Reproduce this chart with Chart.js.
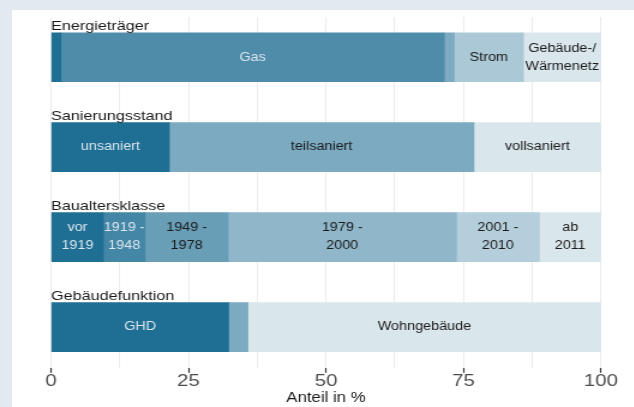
<!DOCTYPE html>
<html lang="de">
<head>
<meta charset="utf-8">
<script src="https://cdn.jsdelivr.net/npm/chart.js@4.4.1/dist/chart.umd.min.js"></script>
<style>
  html, body { margin: 0; padding: 0; }
  body { width: 634px; height: 407px; background: #e2eaf0; overflow: hidden; position: relative; }
  #panel { position: absolute; left: 12px; top: 10px; width: 622px; height: 397px; background: #fff; overflow: hidden; }
  /* the plot is drawn narrow and widened, so the type comes out broad */
  #stretch { width: 518px; height: 397px; transform: scaleX(1.2); transform-origin: 0 0; }
</style>
</head>
<body>
<div id="panel"><div id="stretch"><canvas id="chart" width="518" height="397"></canvas></div></div>
<script>
const gruppen = ['Energieträger', 'Sanierungsstand', 'Baualtersklasse', 'Gebäudefunktion'];

const energietraeger = [1.8, 69.7, 1.8, 12.6, 14.1];
const energietraegerNamen = ['', 'Gas', '', 'Strom', ['Gebäude-/', 'Wärmenetz']];

const sanierung = [21.5, 55.4, 23.1];
const sanierungNamen = ['unsaniert', 'teilsaniert', 'vollsaniert'];

const baualter = [9.5, 7.6, 15.1, 41.5, 15.1, 11.2];
const baualterNamen = [['vor', '1919'], ['1919 -', '1948'], ['1949 -', '1978'], ['1979 -', '2000'], ['2001 -', '2010'], ['ab', '2011']];

const funktion = [32.3, 3.5, 64.2];
const funktionNamen = ['GHD', '', 'Wohngebäude'];

const xTicks = [0, 25, 50, 75, 100];

// blue ramps, dark to light, by number of segments in a row
const farben = {
    3: ['#1f6e94', '#7caac0', '#d9e6ec'],
    5: ['#1f6e94', '#4e8caa', '#7caac0', '#aac8d6', '#d9e6ec'],
    6: ['#1f6e94', '#4486a6', '#699eb7', '#8fb6c9', '#b4cedb', '#d9e6ec'],
};

const reihen = [
    { werte: energietraeger, namen: energietraegerNamen },
    { werte: sanierung, namen: sanierungNamen },
    { werte: baualter, namen: baualterNamen },
    { werte: funktion, namen: funktionNamen },
];

const datasets = [];
for (let k = 0; k < 6; k++) {
    const data = [];
    const colors = [];
    reihen.forEach((r, i) => {
        if (k >= r.werte.length) return;
        data.push({ x: r.werte[k], y: i, name: r.namen[k] });
        colors.push(farben[r.werte.length][k]);
    });
    datasets.push({ data, backgroundColor: colors, barThickness: 49, borderWidth: 0 });
}

function istDunkel(hex) {
    const n = parseInt(hex.slice(1), 16);
    const r = n >> 16, g = (n >> 8) & 255, b = n & 255;
    return 0.299 * r + 0.587 * g + 0.114 * b < 135;
}

const beschriftung = {
    id: 'beschriftung',
    afterDatasetsDraw(chart) {
        const ctx = chart.ctx;
        ctx.save();
        ctx.textAlign = 'center';
        ctx.textBaseline = 'middle';
        ctx.font = '12px "Liberation Sans", Arial, sans-serif';
        chart.data.datasets.forEach((ds, k) => {
            chart.getDatasetMeta(k).data.forEach((bar, j) => {
                const name = ds.data[j].name;
                if (!name) return;
                const lines = Array.isArray(name) ? name : [name];
                const cx = (bar.x + bar.base) / 2;
                ctx.fillStyle = istDunkel(ds.backgroundColor[j]) ? '#dbe7ed' : '#1a1a1a';
                lines.forEach((l, n) => ctx.fillText(l, cx, bar.y + (n - (lines.length - 1) / 2) * 18));
            });
        });
        // row headings above each bar
        ctx.textAlign = 'left';
        ctx.textBaseline = 'alphabetic';
        ctx.font = '13.5px "Liberation Sans", Arial, sans-serif';
        ctx.fillStyle = '#1a1a1a';
        chart.getDatasetMeta(0).data.forEach((bar, i) => {
            ctx.fillText(gruppen[i], chart.chartArea.left, bar.y - bar.height / 2 - 3);
        });
        ctx.restore();
    }
};

new Chart(document.getElementById('chart'), {
    type: 'bar',
    data: { datasets },
    plugins: [beschriftung],
    options: {
        indexAxis: 'y',
        responsive: false,
        animation: false,
        layout: { padding: { left: 32.5, right: 27.2, top: 7, bottom: 0 } },
        plugins: { legend: { display: false }, tooltip: { enabled: false } },
        scales: {
            y: {
                type: 'linear',
                display: false,
                reverse: true,
                stacked: true,
                offset: false,
                min: -0.447,
                max: 3.4525,
            },
            x: {
                type: 'linear',
                position: 'bottom',
                stacked: true,
                min: 0,
                max: 100,
                border: { display: false },
                grid: {
                    color: '#ebebeb',
                    lineWidth: 1,
                    drawTicks: true,
                    tickLength: 5,
                    tickWidth: 1.2,
                    tickColor: c => xTicks.includes(c.tick.value) ? '#333333' : 'rgba(0,0,0,0)',
                },
                ticks: {
                    stepSize: 12.5,
                    autoSkip: false,
                    maxRotation: 0,
                    padding: -2,
                    color: '#4d4d4d',
                    font: { family: '"Liberation Sans", Arial, sans-serif', size: 17 },
                    callback: v => xTicks.includes(v) ? v : '',
                },
                title: {
                    display: true,
                    text: 'Anteil in %',
                    color: '#1a1a1a',
                    font: { family: '"Liberation Sans", Arial, sans-serif', size: 14 },
                    padding: { top: 1, bottom: 0 },
                },
            },
        },
    },
});
</script>
</body>
</html>
